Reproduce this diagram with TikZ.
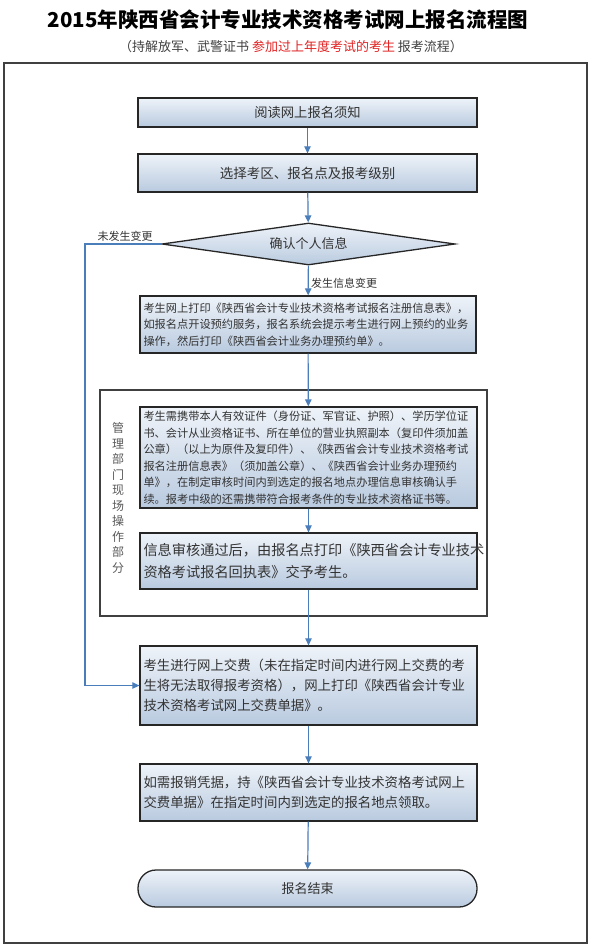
\documentclass[tikz,border=0pt]{standalone}
\usepackage{fontspec}
\setmainfont{Noto Sans CJK SC}
\usetikzlibrary{arrows.meta,shapes.geometric}
\definecolor{flowblue}{HTML}{4A7EBB}
\definecolor{boxtop}{HTML}{EEF3F9}
\definecolor{boxbot}{HTML}{B9CADF}
\definecolor{framegrey}{HTML}{404040}
\definecolor{titlered}{HTML}{E02424}
\tikzset{
  procbox/.style={draw=black!85, line width=1.3pt, top color=boxtop, bottom color=boxbot,
    inner xsep=3.5pt, inner ysep=0pt, text=black!80},
  widebox/.style={procbox, text width=330pt, align=left},
  flow/.style={draw=flowblue, line width=1.2pt, -{Triangle[length=7pt,width=6.5pt]}},
  flowlabel/.style={font=\fontsize{11}{13}\selectfont, text=black!80, inner sep=0pt}
}
\begin{document}
\begin{tikzpicture}[x=1pt,y=-1pt]
			%%%%% START %%%%%
			\useasboundingbox (0,0) rectangle (590,950);
			
			\node[font=\bfseries\fontsize{20.5}{24}\selectfont] (title) at (288,20) {2015年陕西省会计专业技术资格考试网上报名流程图};
			\node[font=\fontsize{13}{15}\selectfont, text=black!75] (subtitle) at (291,47) {（持解放军、武警证书 \textcolor{titlered}{参加过上年度考试的考生} 报考流程）};
			
			\draw[line width=1.5pt, color=framegrey] (4,63) rectangle (587,943);
			\draw[line width=2pt, color=framegrey] (100,390) rectangle (487,616);
			
			\node[procbox, minimum width=339pt, minimum height=29pt, font=\fontsize{13.3}{16}\selectfont] (notice) at (307.5,112.5) {阅读网上报名须知};
			\node[procbox, minimum width=339pt, minimum height=38pt, font=\fontsize{13.5}{16}\selectfont] (choose) at (307.5,173) {选择考区、报名点及报考级别};
			\node[procbox, diamond, aspect=7, minimum width=293pt, minimum height=42pt, inner sep=0pt, font=\fontsize{13}{16}\selectfont] (check) at (308.5,244) {确认个人信息};
			
			\node[widebox, text width=329pt, minimum height=57pt, font=\fontsize{11.2}{16.5}\selectfont] (printreg) at (308,324.5) {考生网上打印《陕西省会计专业技术资格考试报名注册信息表》，\\如报名点开设预约服务，报名系统会提示考生进行网上预约的业务\\操作，然后打印《陕西省会计业务办理预约单》。};
			
			\node[widebox, minimum height=101pt, font=\fontsize{11.2}{16.5}\selectfont] (bring) at (308.5,457.5) {考生需携带本人有效证件（身份证、军官证、护照）、学历学位证\\书、会计从业资格证书、所在单位的营业执照副本（复印件须加盖\\公章）（以上为原件及复印件）、《陕西省会计专业技术资格考试\\报名注册信息表》（须加盖公章）、《陕西省会计业务办理预约\\单》，在制定审核时间内到选定的报名地点办理信息审核确认手\\续。报考中级的还需携带符合报考条件的专业技术资格证书等。};
			\node[widebox, minimum height=56pt, font=\fontsize{14.2}{22}\selectfont] (receipt) at (308.5,561) {信息审核通过后，由报名点打印《陕西省会计专业技术\\资格考试报名回执表》交予考生。};
			\node[font=\fontsize{12}{15.5}\selectfont, text=black!65, align=center, inner sep=0pt] (sitelabel) at (118,498) {管\\理\\部\\门\\现\\场\\操\\作\\部\\分};
			
			\node[widebox, minimum height=79pt, font=\fontsize{13.4}{20}\selectfont] (pay) at (308.5,685.5) {考生进行网上交费（未在指定时间内进行网上交费的考\\生将无法取得报考资格），网上打印《陕西省会计专业\\技术资格考试网上交费单据》。};
			\node[widebox, minimum height=57pt, font=\fontsize{13.4}{20}\selectfont] (voucher) at (308.5,792.5) {如需报销凭据，持《陕西省会计专业技术资格考试网上\\交费单据》在指定时间内到选定的报名地点领取。};
			\node[procbox, rounded corners=18pt, minimum width=339pt, minimum height=37pt, font=\fontsize{13}{16}\selectfont] (finish) at (307.5,888.5) {报名结束};
			
			\draw[flow] (notice) -- (choose);
			\draw[flow] (choose) -- (check);
			\draw[flow] (check) -- (printreg);
			\node[flowlabel, anchor=west] (changed) at (311,283) {发生信息变更};
			\draw[flow] (printreg) -- (bring);
			\draw[flow] (bring) -- (receipt);
			\draw[flow] (receipt) -- (pay);
			\draw[flow] (pay) -- (voucher);
			\draw[flow] (voucher) -- (finish);
			
			\coordinate (bend) at (85,0);
			\draw[flow] (check.west) -- (check.west -| bend) |- (pay.west);
			\node[flowlabel, anchor=south] (unchanged) at (125,242) {未发生变更};
			
			%%%%% END %%%%%
\end{tikzpicture}
\end{document}
